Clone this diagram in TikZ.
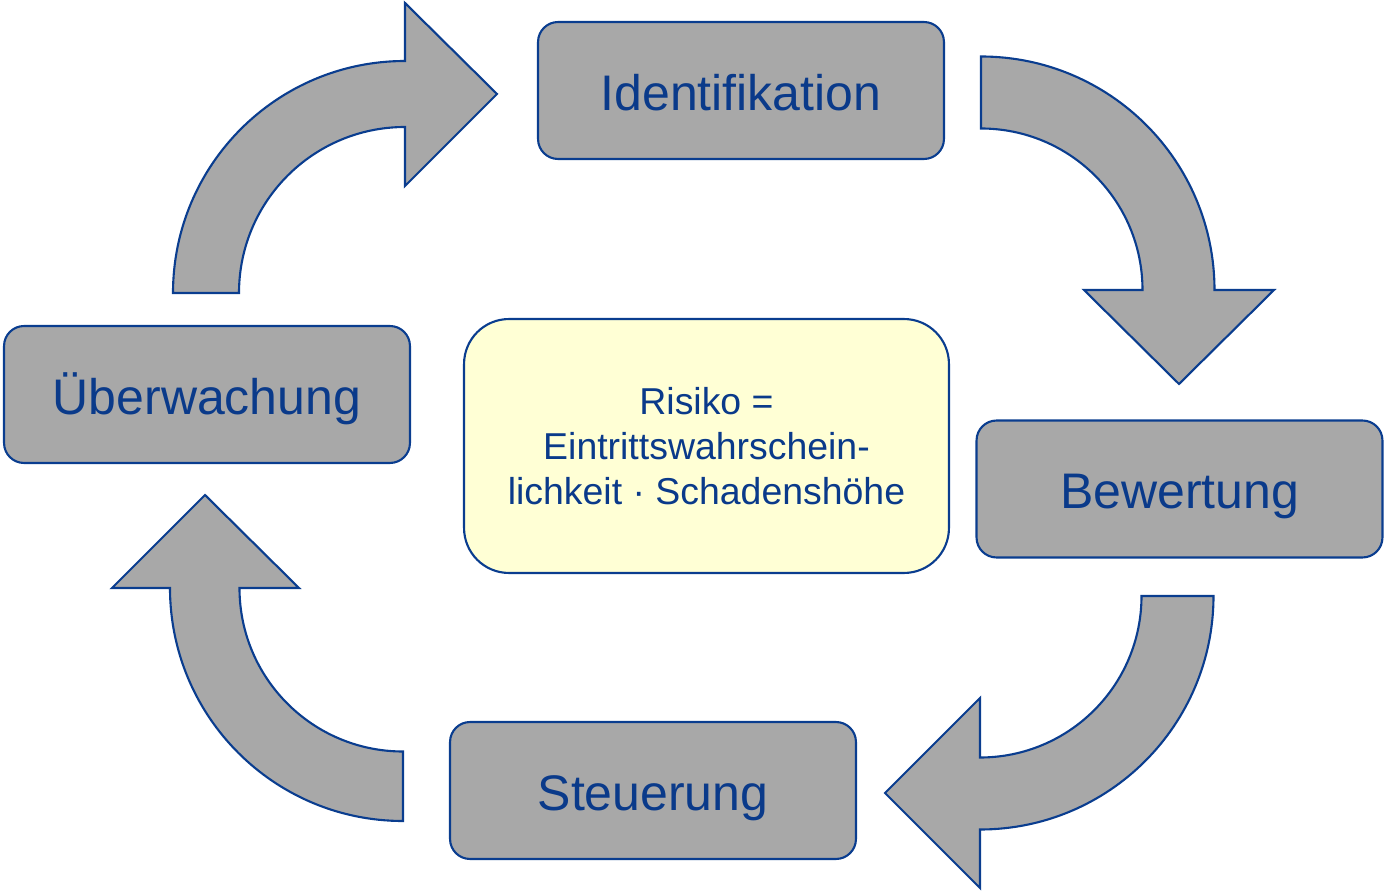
\documentclass[tikz,border=0pt]{standalone}
\usepackage{fontspec}
\setmainfont{Liberation Sans}
\definecolor{bordblue}{HTML}{0A3D8F}
\definecolor{txtblue}{HTML}{0A3A8A}
\definecolor{boxgray}{HTML}{A8A8A8}
\definecolor{paleyellow}{HTML}{FFFFD5}
\begin{document}
\begin{tikzpicture}[x=0.02cm,y=0.02cm,
  stage/.style={draw=bordblue, line width=1.2pt, fill=boxgray, rounded corners=0.4cm,
    minimum width=8.12cm, minimum height=2.74cm, inner sep=0pt, text=txtblue,
    font=\fontsize{28.45}{34}\selectfont, text height=22.7pt, text depth=0pt},
  centerbox/.style={draw=bordblue, line width=1.2pt, fill=paleyellow, rounded corners=0.9cm,
    minimum width=9.7cm, minimum height=5.08cm, inner sep=0pt, text=txtblue, align=center,
    font=\fontsize{21.3}{25.6}\selectfont},
  blockarrow/.style={draw=bordblue, line width=1.2pt, fill=boxgray, line join=miter}]
\useasboundingbox (0,0) rectangle (1384,890);
% block arrows
\draw[blockarrow] (173,597) arc[start angle=180,end angle=90,radius=232]
  -- (405,887) -- (497,796) -- (405,704) -- (405,763)
  arc[start angle=90,end angle=180,radius=166] -- cycle;
\draw[blockarrow] (981,833.5) arc[start angle=90,end angle=0,radius=233.5]
  -- (1274,600) -- (1179,506) -- (1084,600) -- (1142.5,600)
  arc[start angle=0,end angle=90,radius=161.5] -- cycle;
\draw[blockarrow] (1213.5,294) arc[start angle=0,end angle=-90,radius=233.5]
  -- (980,2) -- (885,97) -- (980,192) -- (980,132.5)
  arc[start angle=-90,end angle=0,radius=161.5] -- cycle;
\draw[blockarrow] (403,69) arc[start angle=-90,end angle=-180,radius=233]
  -- (112,302) -- (205,395) -- (299,302) -- (239.5,302)
  arc[start angle=180,end angle=270,radius=163.5] -- cycle;
% stages
\node[stage] (ident) at (741,799.5) {Identifikation};
\node[stage] (bew) at (1179.5,401) {Bewertung};
\node[stage] (steu) at (653,99.5) {Steuerung};
\node[stage] (ueb) at (207,495.5) {Überwachung};
\node[centerbox] (risk) at (706.5,444) {\raisebox{-2pt}{Risiko =}\\\raisebox{-2pt}{Eintrittswahrschein-}\\\raisebox{-2pt}{lichkeit · Schadenshöhe}};
\end{tikzpicture}
\end{document}
